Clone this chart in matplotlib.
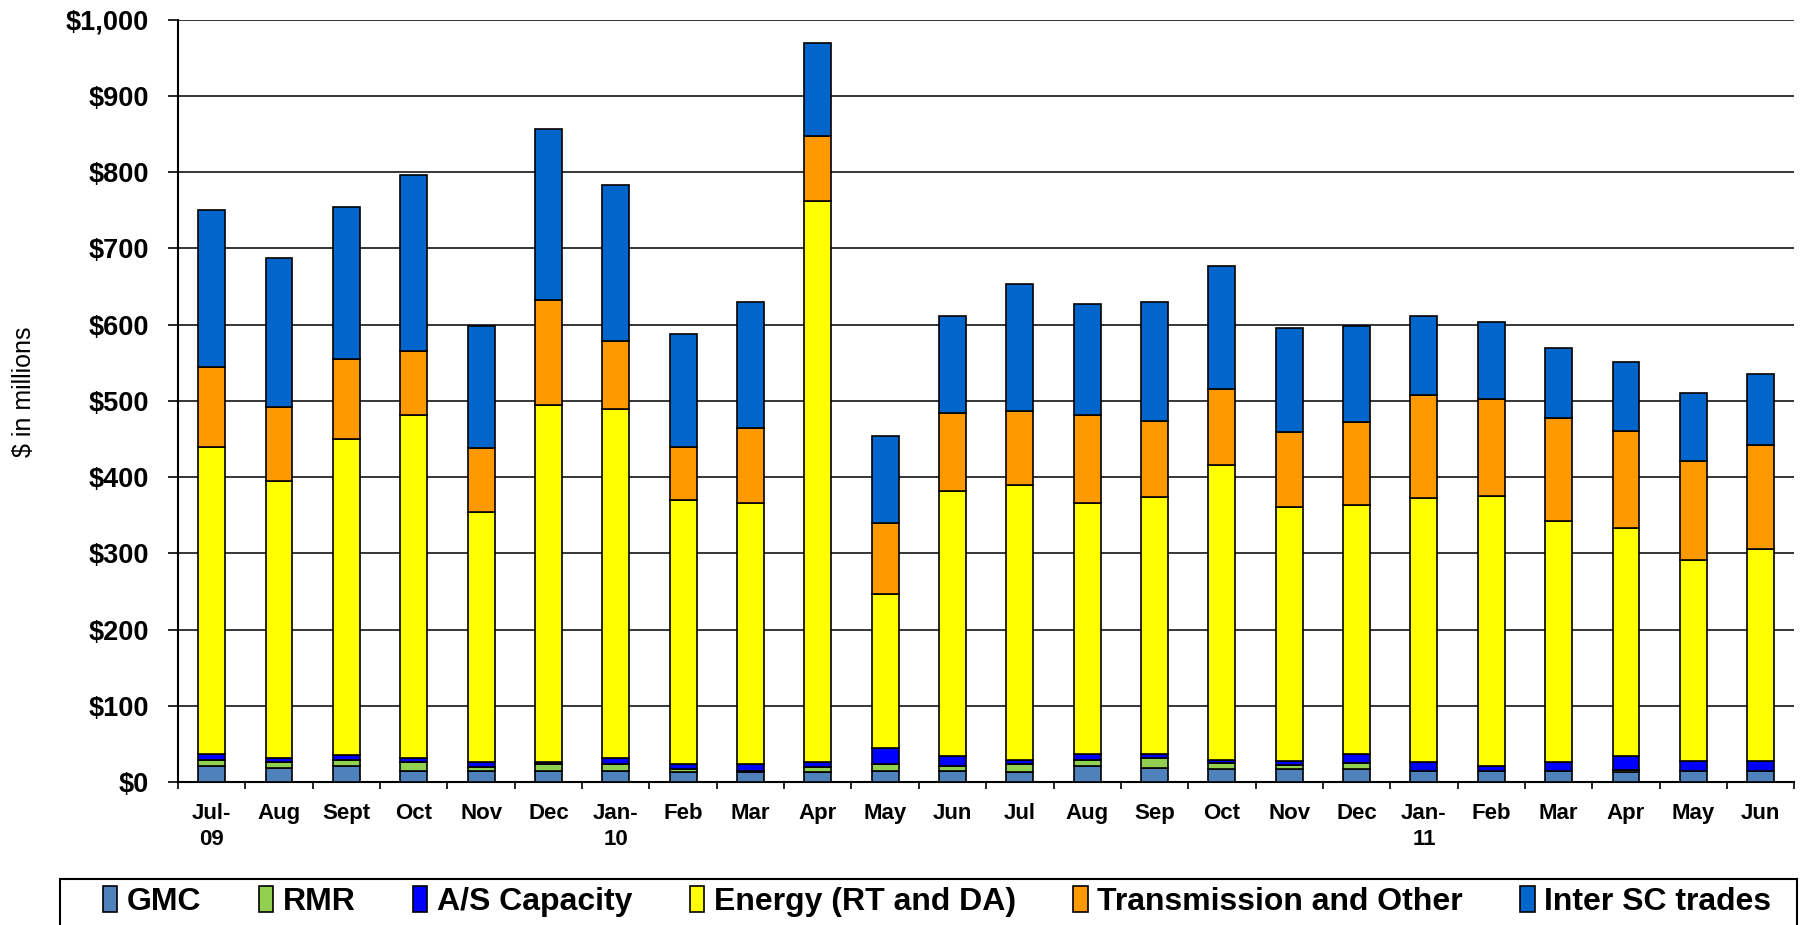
import matplotlib
matplotlib.use('Agg')
import matplotlib.pyplot as plt
from matplotlib.patches import Rectangle
import numpy as np

plt.rcParams['font.family'] = ['Liberation Sans', 'DejaVu Sans']

# ── data ($ millions) ──
months = ['Jul-\n09', 'Aug', 'Sept', 'Oct', 'Nov', 'Dec', 'Jan-\n10', 'Feb', 'Mar', 'Apr',
          'May', 'Jun', 'Jul', 'Aug', 'Sep', 'Oct', 'Nov', 'Dec', 'Jan-\n11', 'Feb',
          'Mar', 'Apr', 'May', 'Jun']
gmc = [21, 18, 21, 15, 15, 15, 15, 13, 13, 13, 15, 15, 13, 21, 18, 17, 17, 17, 15, 15, 15, 13, 15, 15]
rmr = [8, 8, 8, 11, 5, 8, 8, 4, 2, 7, 8, 6, 10, 8, 13, 8, 5, 8, 0, 0, 0, 3, 0, 0]
as_cap = [8, 6, 6, 6, 6, 3, 9, 7, 9, 6, 22, 13, 6, 8, 6, 4, 6, 12, 11, 6, 11, 18, 13, 13]
energy = [403, 363, 415, 450, 328, 469, 458, 346, 342, 736, 201, 348, 361, 329, 337, 387,
          333, 327, 346, 354, 317, 299, 263, 278]
trans = [105, 97, 105, 84, 84, 137, 89, 70, 98, 86, 94, 102, 97, 116, 100, 100, 98, 108,
         136, 128, 134, 128, 130, 136]
inter_sc = [205, 195, 200, 231, 160, 225, 204, 148, 166, 122, 114, 127, 166, 145, 156, 161,
            137, 126, 103, 100, 92, 90, 90, 93]

series = [('GMC', gmc, '#4F81BD'),
          ('RMR', rmr, '#92D050'),
          ('A/S Capacity', as_cap, '#0000FF'),
          ('Energy (RT and DA)', energy, '#FFFF00'),
          ('Transmission and Other', trans, '#FF9900'),
          ('Inter SC trades', inter_sc, '#0066CC')]

fig = plt.figure(figsize=(18.09, 9.25), dpi=100)
ax = fig.add_axes([0.0984, 0.1546, 0.8935, 0.824])

x = np.arange(len(months))
bottom = np.zeros(len(months))
handles = []
for name, vals, col in series:
    b = ax.bar(x, vals, 0.4, bottom=bottom, color=col, edgecolor='black',
               linewidth=1.2, label=name, zorder=3)
    handles.append(b)
    bottom += np.array(vals)

# 축 / 그리드
ax.set_xlim(-0.5, len(months) - 0.5)
ax.set_ylim(0, 1000)
ax.set_yticks(np.arange(0, 1001, 100))
ax.set_yticklabels(['${:,.0f}'.format(v) for v in range(0, 1001, 100)],
                   fontsize=19.5, fontweight='bold')
ax.yaxis.grid(True, color='black', linewidth=1.1, zorder=0)
ax.set_xticks(x)
ax.set_xticklabels(months, fontsize=16, fontweight='bold', linespacing=1.35, va='top')
ax.set_xticks(np.arange(-0.5, len(months)), minor=True)
ax.tick_params(axis='x', which='major', length=0, pad=15)
ax.tick_params(axis='x', which='minor', length=5, width=1.2)
ax.tick_params(axis='y', length=7, width=1.2, pad=14)
for s in ['top', 'right']:
    ax.spines[s].set_visible(False)
for s in ['left', 'bottom']:
    ax.spines[s].set_linewidth(1.5)
fig.text(24 / 1809, 0.576, '$ in millions', rotation=90, ha='center', va='center',
         fontsize=18)

# 범례 (프레임은 따로)
leg = fig.legend(handles=handles, loc='center', bbox_to_anchor=(0.518, 0.025),
                 ncol=6, prop={'weight': 'bold', 'size': 23}, frameon=False,
                 handlelength=0.45, handleheight=0.85, handletextpad=0.3,
                 columnspacing=1.8, borderpad=0.1)
fig.add_artist(Rectangle((60 / 1809, -0.02), 1737 / 1809, 0.0697, transform=fig.transFigure,
                         fill=False, edgecolor='black', linewidth=1.5))

fig.savefig('out.png', dpi=100)
